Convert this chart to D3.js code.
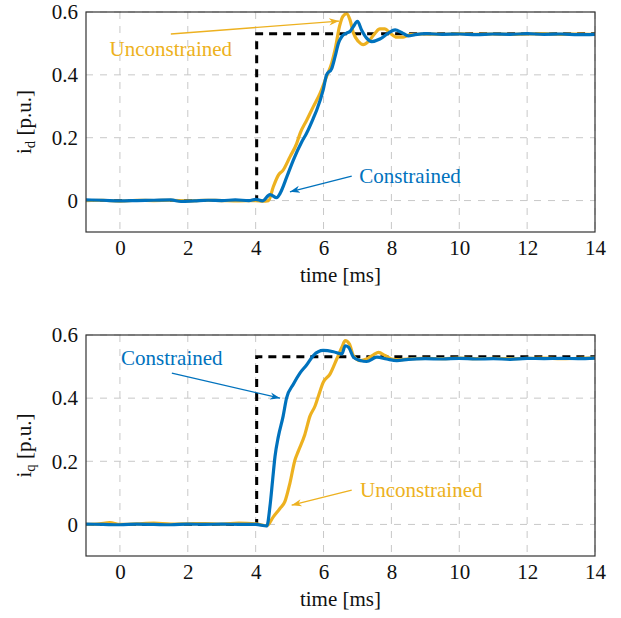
<!DOCTYPE html>
<html>
<head>
<meta charset="utf-8">
<script src="https://cdn.jsdelivr.net/npm/d3@7"></script>
<style>
  body { margin: 0; background: #fff; }
  svg text { font-family: "Liberation Serif", "Times New Roman", serif; }
</style>
</head>
<body>
<div id="chart"></div>
<script>

// DATA
var xTicks = [0, 2, 4, 6, 8, 10, 12, 14];
var yTicks = [0, 0.2, 0.4, 0.6];
var yTickLabels = ["0", "0.2", "0.4", "0.6"];

// reference step
var refT = [-1, 4.03, 4.03, 14];
var refV = [0, 0, 0.531, 0.531];

// i_d, constrained (blue)
var idConT = [-1, -0.5, 0, 0.5, 1, 1.5, 1.8, 2.2, 2.6, 3, 3.4, 3.8, 4.0, 4.2, 4.42, 4.62, 4.72, 4.92, 5.11, 5.36, 5.5, 5.7, 5.8, 5.99, 6.09, 6.24, 6.34, 6.44, 6.54, 6.68, 6.78, 6.88, 7.0, 7.12, 7.27, 7.42, 7.66, 7.91, 8.11, 8.3, 8.5, 8.7, 9.04, 9.5, 10, 10.5, 11, 11.5, 12, 12.5, 13, 13.5, 14];
var idConV = [0.002, 0.001, -0.001, 0.0, 0.001, 0.002, -0.003, -0.001, 0.001, 0.0, 0.002, 0.0, 0.004, -0.001, 0.019, 0.009, 0.023, 0.076, 0.129, 0.187, 0.214, 0.262, 0.288, 0.352, 0.40, 0.42, 0.458, 0.501, 0.522, 0.533, 0.538, 0.554, 0.570, 0.543, 0.517, 0.506, 0.514, 0.533, 0.543, 0.535, 0.524, 0.528, 0.531, 0.529, 0.530, 0.528, 0.530, 0.529, 0.531, 0.529, 0.530, 0.528, 0.529];

// i_d, unconstrained (yellow)
var idUncT = [-1, -0.5, 0, 0.5, 1, 1.5, 2, 2.5, 3, 3.5, 4, 4.2, 4.38, 4.52, 4.67, 4.81, 5.01, 5.21, 5.31, 5.5, 5.7, 5.9, 6.09, 6.24, 6.34, 6.47, 6.57, 6.68, 6.78, 6.88, 7.03, 7.17, 7.32, 7.52, 7.66, 7.81, 7.96, 8.16, 8.35, 8.55, 9, 9.5, 10, 10.5, 11, 11.5, 12, 12.5, 13, 13.5, 14];
var idUncV = [0, 0.001, -0.002, 0.001, 0.0, 0.001, -0.001, 0.001, 0.0, -0.001, 0.0, -0.002, 0.0, 0.044, 0.081, 0.097, 0.139, 0.182, 0.214, 0.255, 0.299, 0.342, 0.395, 0.437, 0.48, 0.554, 0.586, 0.595, 0.575, 0.533, 0.506, 0.496, 0.506, 0.533, 0.546, 0.546, 0.533, 0.52, 0.52, 0.528, 0.530, 0.529, 0.531, 0.529, 0.530, 0.529, 0.530, 0.531, 0.529, 0.530, 0.529];

// i_q, constrained (blue)
var iqConT = [-1, -0.5, 0, 0.5, 1, 1.5, 2, 2.5, 3, 3.5, 4, 4.33, 4.42, 4.5, 4.57, 4.67, 4.81, 4.91, 5.11, 5.31, 5.5, 5.7, 5.99, 6.29, 6.54, 6.64, 6.74, 6.88, 7.08, 7.27, 7.57, 7.86, 8.16, 8.5, 9, 9.5, 10, 10.5, 11, 11.5, 12, 12.5, 13, 13.5, 14];
var iqConV = [0.001, 0, -0.001, 0.001, 0, -0.001, 0.001, 0, 0.001, 0, 0.0, -0.005, 0.056, 0.141, 0.215, 0.279, 0.343, 0.40, 0.444, 0.48, 0.505, 0.535, 0.551, 0.547, 0.54, 0.566, 0.561, 0.53, 0.519, 0.516, 0.53, 0.524, 0.519, 0.523, 0.525, 0.524, 0.526, 0.524, 0.525, 0.523, 0.526, 0.525, 0.526, 0.525, 0.527];

// i_q, unconstrained (yellow)
var iqUncT = [-1, -0.6, -0.3, 0, 0.5, 1, 1.5, 2, 2.5, 3, 3.5, 4, 4.33, 4.52, 4.72, 4.86, 5.01, 5.16, 5.26, 5.45, 5.6, 5.75, 5.85, 5.99, 6.19, 6.39, 6.54, 6.64, 6.76, 6.88, 7.08, 7.27, 7.47, 7.62, 7.81, 8.01, 8.26, 8.6, 9, 9.5, 10, 10.5, 11, 11.5, 12, 12.5, 13, 13.5, 14];
var iqUncV = [0, 0.002, 0.006, 0, 0.002, 0.004, 0.001, 0.002, 0.003, 0.001, 0.004, 0.002, -0.004, 0.024, 0.051, 0.072, 0.131, 0.205, 0.233, 0.285, 0.343, 0.375, 0.407, 0.45, 0.476, 0.524, 0.561, 0.582, 0.572, 0.535, 0.519, 0.524, 0.537, 0.545, 0.535, 0.524, 0.522, 0.525, 0.526, 0.525, 0.527, 0.525, 0.526, 0.525, 0.526, 0.527, 0.525, 0.526, 0.527];

// annotation labels and arrows (data coordinates)
var idNotes = [
  {text: "Unconstrained", cls: "unc", tx: 1.5, ty: 0.46, from: [1.5, 0.53], to: [6.46, 0.571]},
  {text: "Constrained", cls: "con", tx: 8.55, ty: 0.056, from: [6.83, 0.078], to: [5.01, 0.028]}
];
var iqNotes = [
  {text: "Constrained", cls: "con", tx: 1.53, ty: 0.505, from: [1.53, 0.479], to: [4.72, 0.40]},
  {text: "Unconstrained", cls: "unc", tx: 8.88, ty: 0.087, from: [6.83, 0.109], to: [5.06, 0.061]}
];

var colors = {con: "#0072BD", unc: "#EDB120", ref: "#000"};

var W = 621, H = 618;
var fontSize = 21;

var svg = d3.select("#chart").append("svg")
  .attr("width", W)
  .attr("height", H);

// arrow heads
var defs = svg.append("defs");
["con", "unc"].forEach(function(k) {
  defs.append("marker")
    .attr("id", "arrow_" + k)
    .attr("viewBox", "-10 -5 12 10")
    .attr("refX", 0)
    .attr("refY", 0)
    .attr("markerWidth", 12)
    .attr("markerHeight", 10)
    .attr("markerUnits", "userSpaceOnUse")
    .attr("orient", "auto")
    .append("path")
      .attr("d", "M0,0 L-10,-3.6 L-7,0 L-10,3.6 Z")
      .attr("fill", colors[k]);
});

function zip(t, v) {
  return t.map(function(d, i) { return {t: d, v: v[i]}; });
}

function draw_panel(top, bottom, yLabelSub, series, notes) {

  var left = 86, right = 595;

  var x = d3.scaleLinear().domain([-1, 14]).range([left, right]);
  var y = d3.scaleLinear().domain([-0.1, 0.6]).range([bottom, top]);

  var g = svg.append("g");

  // grid
  g.append("g").selectAll("line.gx")
    .data(xTicks)
    .enter().append("line")
      .attr("x1", function(d) { return x(d); })
      .attr("x2", function(d) { return x(d); })
      .attr("y1", top)
      .attr("y2", bottom)
      .attr("stroke", "#c8c8c8")
      .attr("stroke-width", 1)
      .attr("stroke-dasharray", "7,7");

  g.append("g").selectAll("line.gy")
    .data(yTicks)
    .enter().append("line")
      .attr("x1", left)
      .attr("x2", right)
      .attr("y1", function(d) { return y(d); })
      .attr("y2", function(d) { return y(d); })
      .attr("stroke", "#c8c8c8")
      .attr("stroke-width", 1)
      .attr("stroke-dasharray", "7,7");

  // axes (labels only, the frame is drawn separately)
  var xAxis = d3.axisBottom(x).tickValues(xTicks).tickSize(0).tickPadding(8)
    .tickFormat(function(d) { return d; });
  var yAxis = d3.axisLeft(y).tickValues(yTicks).tickSize(0).tickPadding(8)
    .tickFormat(function(d, i) { return yTickLabels[i]; });

  var gx = g.append("g")
    .attr("transform", "translate(0," + bottom + ")")
    .call(xAxis);
  var gy = g.append("g")
    .attr("transform", "translate(" + left + ",0)")
    .call(yAxis);

  [gx, gy].forEach(function(a) {
    a.select(".domain").remove();
    a.selectAll("text")
      .attr("font-family", "Liberation Serif")
      .attr("font-size", fontSize)
      .attr("fill", "#111");
  });

  // lines
  var line = d3.line()
    .x(function(d) { return x(d.t); })
    .y(function(d) { return y(d.v); })
    .curve(d3.curveMonotoneX);

  g.append("path")
    .datum(zip(refT, refV))
    .attr("d", d3.line().x(function(d) { return x(d.t); }).y(function(d) { return y(d.v); }))
    .attr("fill", "none")
    .attr("stroke", colors.ref)
    .attr("stroke-width", 3)
    .attr("stroke-dasharray", "8,6");

  series.forEach(function(s) {
    g.append("path")
      .datum(zip(s.t, s.v))
      .attr("d", line)
      .attr("fill", "none")
      .attr("stroke", colors[s.cls])
      .attr("stroke-width", 3.2)
      .attr("stroke-linejoin", "round");
  });

  // frame
  g.append("rect")
    .attr("x", left)
    .attr("y", top)
    .attr("width", right - left)
    .attr("height", bottom - top)
    .attr("fill", "none")
    .attr("stroke", "#333")
    .attr("stroke-width", 1.2);

  // annotations
  notes.forEach(function(n) {
    g.append("line")
      .attr("x1", x(n.from[0]))
      .attr("y1", y(n.from[1]))
      .attr("x2", x(n.to[0]))
      .attr("y2", y(n.to[1]))
      .attr("stroke", colors[n.cls])
      .attr("stroke-width", 1.3)
      .attr("marker-end", "url(#arrow_" + n.cls + ")");

    g.append("text")
      .attr("x", x(n.tx))
      .attr("y", y(n.ty))
      .attr("text-anchor", "middle")
      .attr("font-size", fontSize)
      .attr("fill", colors[n.cls])
      .text(n.text);
  });

  // axis titles
  g.append("text")
    .attr("x", (left + right) / 2)
    .attr("y", bottom + 50)
    .attr("text-anchor", "middle")
    .attr("font-size", fontSize)
    .attr("fill", "#111")
    .text("time [ms]");

  var yl = g.append("text")
    .attr("transform", "translate(31," + ((top + bottom) / 2) + ") rotate(-90)")
    .attr("text-anchor", "middle")
    .attr("font-size", fontSize)
    .attr("fill", "#111");
  yl.append("tspan").text("i");
  yl.append("tspan").attr("font-size", fontSize * 0.7).attr("dy", 4).text(yLabelSub);
  yl.append("tspan").attr("dy", -4).text(" [p.u.]");
}

draw_panel(12, 232, "d",
  [{cls: "unc", t: idUncT, v: idUncV}, {cls: "con", t: idConT, v: idConV}],
  idNotes);

draw_panel(335, 556, "q",
  [{cls: "unc", t: iqUncT, v: iqUncV}, {cls: "con", t: iqConT, v: iqConV}],
  iqNotes);

</script>
</body>
</html>
